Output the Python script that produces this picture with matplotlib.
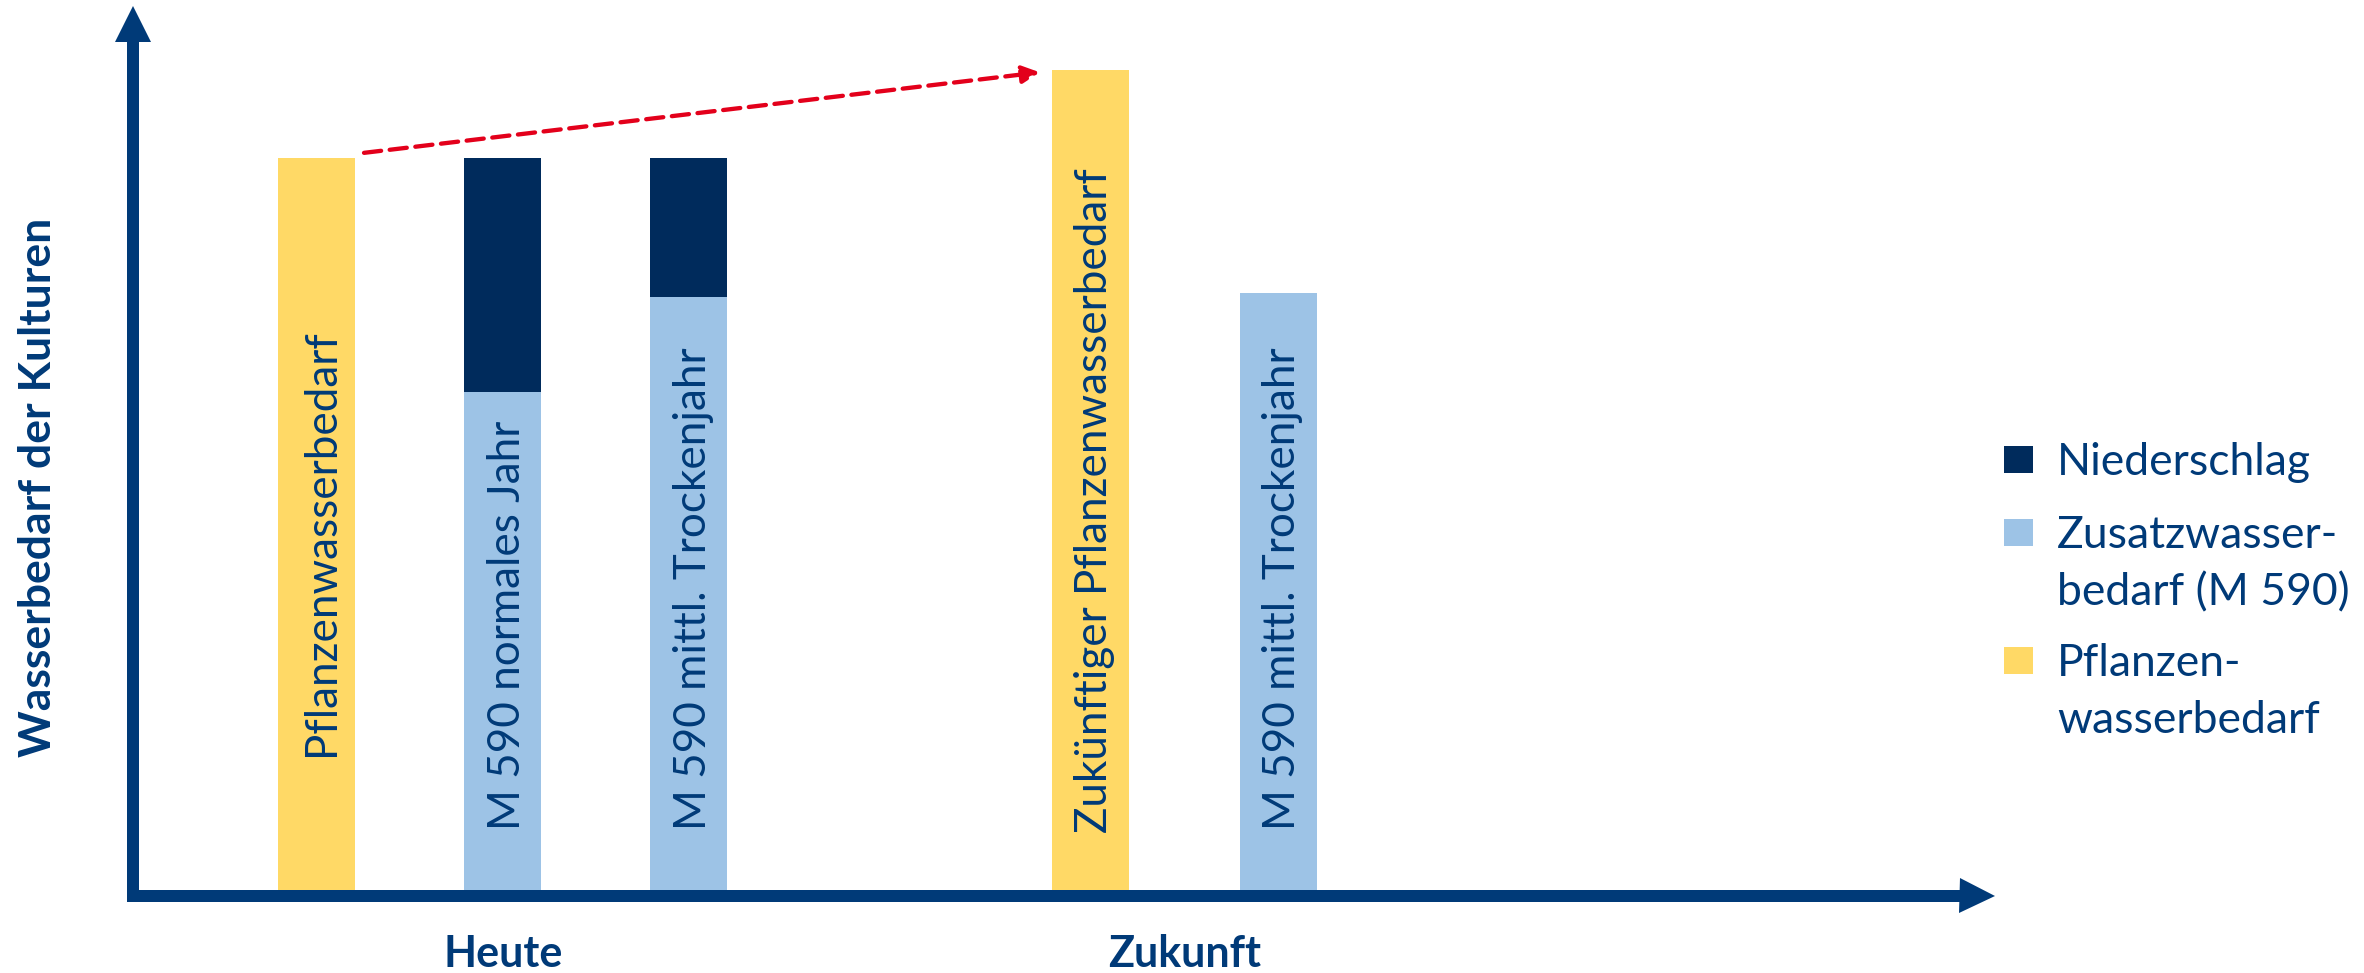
import matplotlib
matplotlib.use("Agg")
import matplotlib.pyplot as plt
from matplotlib.patches import Rectangle

plt.rcParams['font.family'] = ['Lato', 'DejaVu Sans']

# Balken: heute (3) und Zukunft (2), relative Einheiten (Pflanzenwasserbedarf heute = 100)
bar_labels = ["Pflanzenwasserbedarf", "M 590 normales Jahr", "M 590 mittl. Trockenjahr",
              "Zukünftiger Pflanzenwasserbedarf", "M 590 mittl. Trockenjahr"]
pflanzen = [100, 0, 0, 112, 0]
zusatz = [0, 68, 81, 0, 81.5]
niederschlag = [0, 32, 19, 0, 0]

groups = ["Heute", "Zukunft"]
group_members = [[0, 1, 2], [3, 4]]

legend_labels = ["Niederschlag", "Zusatzwasser-\nbedarf (M 590)", "Pflanzen-\nwasserbedarf"]

# Farben
c_axis = "#003A78"
c_text = "#003A78"
c_dark = "#002B5C"
c_light = "#9DC3E6"
c_yellow = "#FFD966"
c_red = "#E3001B"

pos = [0, 1, 2, 4.16, 5.17]
width = 0.414
label_start = [18.3, 8.2, 8.2, 7.8, 8.2]

fig = plt.figure(figsize=(23.64, 9.73), dpi=100)
ax = fig.add_axes([0, 0, 1, 1])
ax.set_xlim(-1.704, 11.005)
ax.set_ylim(-11.34, 121.58)
ax.axis('off')

ax.bar(pos, pflanzen, width=width, color=c_yellow, linewidth=0)
ax.bar(pos, zusatz, width=width, color=c_light, linewidth=0)
ax.bar(pos, niederschlag, width=width, bottom=zusatz, color=c_dark, linewidth=0)

# Beschriftung in den Balken
for x, lab, y0 in zip(pos, bar_labels, label_start):
    ax.annotate(lab, xy=(x, y0), xytext=(12, 0), textcoords='offset points',
                rotation=90, rotation_mode='anchor', ha='left', va='baseline',
                fontsize=31.7, color=c_text)

# Achsen als Pfeile
ax.plot([-0.989, -0.989], [-1.64, 115.85], color=c_axis, lw=8.64, solid_capstyle='butt')
ax.plot([-0.989], [118.3], marker='^', markersize=25.9, color=c_axis, markeredgewidth=0)
ax.plot([-1.0215, 8.833], [-0.888, -0.888], color=c_axis, lw=8.64, solid_capstyle='butt')
ax.plot([8.925], [-0.888], marker='>', markersize=25.2, color=c_axis, markeredgewidth=0)

ax.text(-1.43, 55.0, "Wasserbedarf der Kulturen", rotation=90, rotation_mode='anchor',
        ha='center', va='baseline', fontsize=32, fontweight='bold', color=c_text)

for name, members in zip(groups, group_members):
    xc = sum(pos[i] for i in members) / len(members)
    ax.text(xc, -10.5, name, ha='center', va='baseline', fontsize=31,
            fontweight='bold', color=c_text)

# roter Pfeil: Anstieg des Pflanzenwasserbedarfs
start = (pos[0] + width / 2 + 0.046, pflanzen[0] + 0.7)
tip = (pos[3] - width / 2 - 0.067, pflanzen[3] - 0.3)
ax.annotate('', xy=tip, xytext=start,
            arrowprops=dict(arrowstyle='-|>', mutation_scale=26, color=c_red, lw=3.1,
                            linestyle=(0, (4, 2)), shrinkA=0, shrinkB=0))

# Legende
legend_colors = [c_dark, c_light, c_yellow]
legend_baselines = [0.5118, 0.4368, 0.3052]
line_step = 0.0586
for lab, col, yb in zip(legend_labels, legend_colors, legend_baselines):
    ax.add_patch(Rectangle((0.8477, yb + 0.002), 0.01227, 0.02775, transform=ax.transAxes,
                           facecolor=col, edgecolor='none'))
    for k, line in enumerate(lab.split("\n")):
        ax.text(0.8701, yb - k * line_step, line, transform=ax.transAxes,
                ha='left', va='baseline', fontsize=32, color=c_text)

fig.savefig("out.png", dpi=100)
